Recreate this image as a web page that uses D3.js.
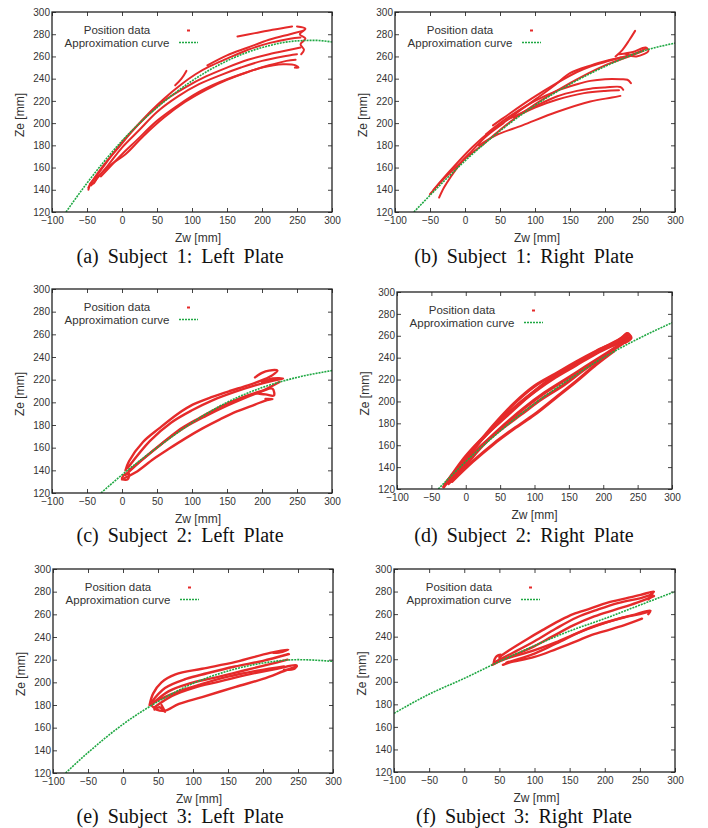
<!DOCTYPE html>
<html>
<head>
<meta charset="utf-8">
<script src="https://cdn.jsdelivr.net/npm/d3@7"></script>
<style>
  body { margin: 0; background: #fff; }
  svg text { font-family: "Liberation Sans", Arial, Helvetica, sans-serif; fill: #333; }
  svg text.cap { font-family: "Liberation Serif", "Times New Roman", serif; fill: #111; }
</style>
</head>
<body>
<svg id="fig" width="708" height="828"></svg>
<script>
// tick values shared by all six plots
var xTicks = [-100, -50, 0, 50, 100, 150, 200, 250, 300];
var yTicks = [120, 140, 160, 180, 200, 220, 240, 260, 280, 300];

var captions = [
  "(a) Subject 1: Left Plate", "(b) Subject 1: Right Plate",
  "(c) Subject 2: Left Plate", "(d) Subject 2: Right Plate",
  "(e) Subject 3: Left Plate", "(f) Subject 3: Right Plate"
];
var legendLabels = ["Position data", "Approximation curve"];

// approximation curves, [Zw, Ze]
var curveA = [[-80,120],[-50,146],[0,184],[50,214],[100,238],[150,256],[200,268],[250,274],[275,274.5],[300,273]];
var curveB = [[-73,120],[-50,135],[0,166],[50,193],[100,216],[150,235],[200,251],[250,264],[300,272]];
var curveC = [[-30,120],[0,136],[50,160],[100,182],[150,200],[200,213],[250,222],[300,228]];
var curveD = [[-40,120],[0,145],[50,173],[100,198],[150,220],[200,240],[250,257],[300,272]];
var curveE = [[-82,120],[-50,138],[0,163],[50,183],[100,199],[150,210],[200,217],[250,220],[300,218.5]];
var curveF = [[-100,172],[-50,189],[0,203],[50,218],[100,232],[150,245],[200,256],[250,268],[300,280]];

// position data, traced as trajectories [Zw, Ze]
var tracksA = [
  [[-48,142],[-40,150],[-25,163],[-5,178],[15,193],[40,210],[60,222],[85,235],[105,244],[125,251],[150,258],[180,266],[210,272],[240,276],[255,277]],
  [[-46,145],[-30,158],[-10,175],[10,190],[35,206],[60,220],[90,232],[120,242],[150,250],[180,257],[210,262],[240,266],[255,268]],
  [[-44,144],[-20,162],[0,178],[25,194],[50,210],[80,224],[110,235],[140,243],[170,250],[200,256],[230,260],[250,262]],
  [[-38,150],[-15,163],[5,172],[30,188],[60,205],[90,219],[120,230],[150,239],[180,246],[210,252],[235,256],[248,257]],
  [[-30,152],[0,172],[20,184],[50,202],[80,216],[110,228],[140,237],[170,244],[200,250],[230,253],[248,252],[252,250],[247,250]],
  [[76,234],[85,240],[92,247]],
  [[122,252],[150,261],[180,268],[210,275],[240,280],[258,283]],
  [[165,278],[190,281],[215,284],[243,287]],
  [[250,287],[262,285],[254,280],[262,276],[255,271],[260,266],[256,262]],
  [[-48,140],[-45,145],[-40,146],[-35,152]]
];
var tracksB = [
  [[-37,133],[-30,142],[-20,152],[-5,165],[10,175],[30,188],[55,200]],
  [[-50,136],[-30,150],[0,168],[30,183],[60,199],[100,217],[150,236],[200,252],[230,259],[255,265]],
  [[-45,140],[-20,158],[10,178],[35,192],[54,200],[80,212],[102,222],[130,235],[150,245],[180,252],[208,257],[240,262],[258,267]],
  [[40,198],[58,206],[95,222],[131,236],[160,246],[179,251],[200,255],[223,259]],
  [[215,260],[225,266],[235,275],[243,283]],
  [[220,262],[240,264],[258,268],[262,265],[245,260],[230,262]],
  [[30,190],[50,200],[73,210],[100,220],[131,229],[160,235],[179,238],[200,239.5],[222,239.5],[232,239],[237,236]],
  [[60,203],[90,212],[131,224],[160,229],[179,231],[200,232],[222,232.5],[226,230]],
  [[70,205],[100,214],[131,221],[170,227],[200,229],[220,229.5]],
  [[20,180],[44,189],[82,198],[131,210],[179,219.5],[210,223],[222,224.5]]
];
var tracksC = [
  [[5,140],[10,148],[30,165],[53,177],[80,190],[101,198],[130,205],[154,210],[180,215],[202,220],[215,224],[222,228],[210,228],[200,226],[190,222]],
  [[8,142],[40,166],[70,182],[100,193],[130,202],[160,209],[190,215],[215,219],[230,221],[215,221],[200,218]],
  [[10,140],[50,160],[80,175],[110,186],[140,196],[170,204],[200,210],[215,212],[217,206],[205,207],[190,208]],
  [[3,133],[19,138],[45,150],[67,159],[90,168],[115,177],[140,185],[164,192],[190,198],[207,202],[215,203],[205,203]],
  [[5,136],[30,150],[60,165],[90,178],[120,188],[150,197],[180,205],[200,210],[225,218]],
  [[0,132],[8,132],[10,137],[3,136],[0,133]]
];
var tracksD = [
  [[-32,122],[-20,133],[0,150],[30,170],[60,187],[90,204],[120,219],[150,231],[180,242],[210,252],[235,260]],
  [[-30,124],[-10,140],[10,156],[40,176],[70,194],[100,209],[130,222],[160,233],[190,244],[220,253],[240,259]],
  [[-25,125],[0,142],[25,160],[55,178],[85,194],[115,208],[145,220],[175,232],[205,244],[235,256]],
  [[-28,126],[-5,142],[20,158],[50,174],[80,188],[110,202],[140,214],[170,228],[200,241],[230,254],[240,258]],
  [[-15,135],[10,155],[40,178],[70,198],[100,214],[130,225],[160,236],[190,246],[220,255],[235,262]],
  [[-20,127],[10,145],[40,161],[70,175],[100,188],[130,203],[160,218],[190,234],[215,246]],
  [[225,255],[235,262],[240,258],[232,254]]
];
var tracksE = [
  [[38,180],[43,190],[55,200],[75,207],[113,212],[161,218],[210,226],[236,229],[228,227],[215,226]],
  [[40,182],[60,195],[90,203],[120,208],[160,214],[200,219],[237,225],[225,223]],
  [[42,181],[65,192],[95,199],[130,204],[170,210],[210,216],[235,220]],
  [[45,178],[70,188],[100,195],[140,201],[180,207],[220,212],[248,215],[245,212],[230,211]],
  [[40,180],[48,176],[60,175],[80,181],[113,187],[161,196],[200,203],[230,210],[248,214]],
  [[45,183],[75,191],[110,198],[150,205],[190,210],[230,214]],
  [[45,176],[52,178],[60,174],[55,180]]
];
var tracksF = [
  [[50,222],[64,228],[90,238],[112,246],[135,254],[155,260],[180,265],[203,270],[230,274],[251,277],[270,280],[265,277]],
  [[45,218],[70,226],[100,236],[130,247],[160,257],[190,264],[220,270],[250,274],[268,277],[262,273]],
  [[42,216],[65,222],[95,230],[125,240],[155,250],[185,258],[215,264],[245,270],[270,276]],
  [[55,220],[90,226],[130,235],[160,243],[190,250],[220,256],[245,260],[265,263],[262,260]],
  [[60,217],[100,225],[131,234],[179,248],[227,257],[250,260],[262,262]],
  [[55,215],[64,217],[100,222],[131,229],[160,236],[179,241],[200,245],[227,250],[253,256]],
  [[40,215],[48,218],[52,224],[45,222],[42,217]]
];

var curves = [curveA, curveB, curveC, curveD, curveE, curveF];
var tracks = [tracksA, tracksB, tracksC, tracksD, tracksE, tracksF];

// where each plot sits on the page
var boxes = [
  {l: 52,  r: 332, t: 12,  b: 212, capX: 180, capY: 263, dx: 6, w: 2},
  {l: 395, r: 675, t: 12,  b: 212, capX: 524, capY: 263, dx: 2, w: 2},
  {l: 52,  r: 332, t: 289, b: 493, capX: 180, capY: 542, dx: 6, w: 2.4},
  {l: 397, r: 672, t: 292, b: 489, capX: 524, capY: 542, dx: 0, w: 3.2},
  {l: 53,  r: 333, t: 569, b: 773, capX: 180, capY: 823, dx: 6, w: 2.4},
  {l: 394, r: 675, t: 569, b: 772, capX: 524, capY: 823, dx: 2, w: 2.4}
];

var RED = "#e52a2a", GREEN = "#1fa843";
var svg = d3.select("#fig");

boxes.forEach(function(bx, i) {
  var x = d3.scaleLinear().domain([-100, 300]).range([bx.l, bx.r]);
  var y = d3.scaleLinear().domain([120, 300]).range([bx.b, bx.t]);
  var g = svg.append("g");

  g.append("clipPath").attr("id", "clip" + i)
    .append("rect").attr("x", bx.l).attr("y", bx.t)
    .attr("width", bx.r - bx.l).attr("height", bx.b - bx.t);

  var line = d3.line().x(function(d) { return x(d[0]); }).y(function(d) { return y(d[1]); })
    .curve(d3.curveCatmullRom);

  var plot = g.append("g").attr("clip-path", "url(#clip" + i + ")");
  plot.selectAll("path.trk").data(tracks[i]).enter().append("path")
    .attr("class", "trk")
    .attr("d", line)
    .attr("fill", "none").attr("stroke", RED).attr("stroke-width", bx.w)
    .attr("stroke-linejoin", "round").attr("stroke-linecap", "round");
  plot.append("path").datum(curves[i])
    .attr("d", line.curve(d3.curveMonotoneX))
    .attr("fill", "none").attr("stroke", GREEN).attr("stroke-width", 1.6)
    .attr("stroke-dasharray", "2,1");

  // axes: gnuplot style, inward ticks mirrored on all sides
  g.append("g").attr("transform", "translate(0," + bx.b + ")")
    .call(d3.axisBottom(x).tickValues(xTicks).tickSizeInner(-4).tickSizeOuter(0).tickPadding(5));
  g.append("g").attr("transform", "translate(0," + bx.t + ")")
    .call(d3.axisTop(x).tickValues(xTicks).tickSizeInner(-4).tickSizeOuter(0).tickFormat(""));
  g.append("g").attr("transform", "translate(" + bx.l + ",0)")
    .call(d3.axisLeft(y).tickValues(yTicks).tickSizeInner(-4).tickSizeOuter(0).tickPadding(2));
  g.append("g").attr("transform", "translate(" + bx.r + ",0)")
    .call(d3.axisRight(y).tickValues(yTicks).tickSizeInner(-4).tickSizeOuter(0).tickFormat(""));
  g.selectAll(".domain").remove();
  g.selectAll(".tick line").attr("stroke", "#444").attr("stroke-width", 1);
  g.selectAll(".tick text").attr("font-size", 10).attr("fill", "#333")
    .style("font-family", "'Liberation Sans', Arial, sans-serif");

  g.append("rect").attr("x", bx.l).attr("y", bx.t)
    .attr("width", bx.r - bx.l).attr("height", bx.b - bx.t)
    .attr("fill", "none").attr("stroke", "#222").attr("stroke-width", 1.3);

  // axis titles
  g.append("text").attr("x", (bx.l + bx.r) / 2 + bx.dx).attr("y", bx.b + 30)
    .attr("text-anchor", "middle").attr("font-size", 12).text("Zw [mm]");
  g.append("text")
    .attr("transform", "translate(" + (bx.l - 32) + "," + ((bx.t + bx.b) / 2 + 3) + ") rotate(-90)")
    .attr("dy", "0.35em").attr("text-anchor", "middle").attr("font-size", 12).text("Ze [mm]");

  // legend
  g.append("text").attr("x", bx.l + 65).attr("y", bx.t + 22)
    .attr("text-anchor", "middle").attr("font-size", 11.5).text(legendLabels[0]);
  g.append("rect").attr("x", bx.l + 135).attr("y", bx.t + 17.5)
    .attr("width", 3).attr("height", 2).attr("fill", RED);
  g.append("text").attr("x", bx.l + 65).attr("y", bx.t + 34.5)
    .attr("text-anchor", "middle").attr("font-size", 11.5).text(legendLabels[1]);
  g.append("line").attr("x1", bx.l + 127).attr("x2", bx.l + 146)
    .attr("y1", bx.t + 30.5).attr("y2", bx.t + 30.5)
    .attr("stroke", GREEN).attr("stroke-width", 1.6).attr("stroke-dasharray", "2,1");

  // sub-caption
  g.append("text").attr("class", "cap").attr("x", bx.capX).attr("y", bx.capY)
    .attr("text-anchor", "middle").attr("font-size", 20).attr("word-spacing", 4)
    .text(captions[i]);
});
</script>
</body>
</html>
